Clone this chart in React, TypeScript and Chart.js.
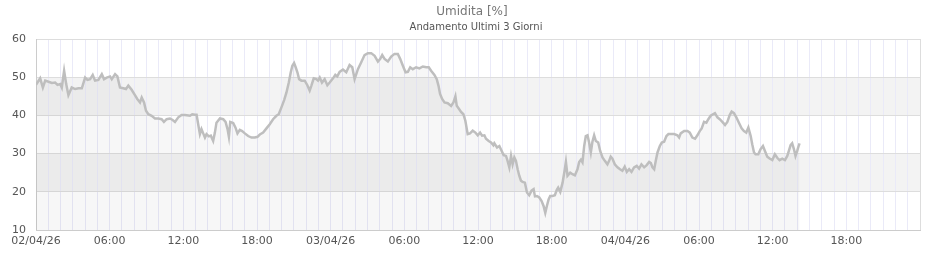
import { useEffect, useRef } from 'react';
import { Chart, registerables } from 'chart.js';

Chart.register(...registerables);

const titleText = 'Umidita [%]';
const subtitleText = 'Andamento Ultimi 3 Giorni';

// x tick labels every 6 hours, starting at 02/04/26 00:00
const xTickLabels = [
  '02/04/26', '06:00', '12:00', '18:00',
  '03/04/26', '06:00', '12:00', '18:00',
  '04/04/26', '06:00', '12:00', '18:00',
];
const xRangeHours = [0, 72];
const yRange = [10, 60];
const yStep = 10;
const bandRanges = [[40, 50], [20, 30]];

// hours since 02/04/26 00:00
const hours = [
  0, 0.12, 0.34, 0.56, 0.75, 1.02, 1.29, 1.56, 1.75, 1.97,
  2.10, 2.29, 2.46, 2.64, 2.91, 3.19, 3.46, 3.73, 4.00, 4.19,
  4.41, 4.62, 4.81, 5.08, 5.36, 5.54, 5.76, 6.03, 6.17, 6.44,
  6.63, 6.84, 7.11, 7.33, 7.52, 7.79, 8.06, 8.25, 8.47, 8.61,
  8.80, 8.96, 9.15, 9.42, 9.69, 9.96, 10.23, 10.42, 10.64, 10.91,
  11.13, 11.32, 11.59, 11.86, 12.13,
  12.54, 12.73, 12.94, 13.08, 13.21, 13.35, 13.48, 13.62, 13.76, 13.89,
  14.08, 14.24, 14.43, 14.57, 14.70, 14.98, 15.25, 15.44, 15.60, 15.71,
  15.82, 16.06, 16.25, 16.41, 16.60, 16.79, 17.01, 17.28, 17.55, 17.82,
  18.04, 18.23, 18.50, 18.77, 19.04, 19.31, 19.58, 19.77, 19.99, 20.21,
  20.40, 20.59, 20.75, 20.88, 21.02, 21.15, 21.29, 21.43, 21.62, 21.89,
  22.10, 22.29, 22.43, 22.62, 22.83, 22.97, 23.11, 23.29, 23.51, 23.73,
  23.92, 24.19, 24.38, 24.54,
  24.73, 25.00, 25.27, 25.54, 25.76, 25.95, 26.22, 26.49, 26.76, 27.03,
  27.30, 27.58, 27.85, 28.04, 28.20, 28.39, 28.66, 28.93, 29.20, 29.47,
  29.66, 29.88, 30.10, 30.29, 30.48, 30.69, 30.96, 31.23, 31.51, 31.78,
  31.99, 32.18, 32.45, 32.64, 32.78, 32.91, 33.08, 33.27, 33.54, 33.81,
  34.00, 34.16, 34.27, 34.43, 34.62, 34.81, 34.97, 35.16, 35.35, 35.57,
  35.79, 35.98, 36.17, 36.33, 36.52, 36.65, 36.87, 37.06, 37.25,
  37.33, 37.55, 37.74, 37.93, 38.09, 38.28, 38.41, 38.55, 38.69, 38.82,
  38.96, 39.09, 39.23, 39.36, 39.50, 39.63, 39.82, 39.99, 40.17, 40.36,
  40.53, 40.64, 40.80, 40.99, 41.18, 41.34, 41.48, 41.61, 41.75, 41.88,
  42.07, 42.26, 42.42, 42.53, 42.70, 42.89, 43.07, 43.16, 43.29, 43.51,
  43.70, 43.89, 44.10, 44.24, 44.38, 44.51, 44.65, 44.78, 44.92, 45.05,
  45.19, 45.32, 45.46, 45.60, 45.79, 45.95, 46.14, 46.33, 46.54, 46.68,
  46.81, 46.95, 47.14, 47.36, 47.57, 47.76, 47.95, 48.12, 48.31, 48.50,
  48.71, 48.93, 49.12, 49.31, 49.53, 49.74,
  49.94, 50.08, 50.21, 50.35, 50.48, 50.62, 50.81, 50.97, 51.16, 51.35,
  51.51, 51.70, 51.97, 52.24, 52.38, 52.51, 52.79, 53.06, 53.25, 53.46,
  53.68, 53.87, 54.06, 54.22, 54.41, 54.60, 54.76, 54.95, 55.14, 55.30,
  55.50, 55.69, 55.90, 56.12, 56.31, 56.50, 56.66, 56.85, 57.04, 57.26,
  57.47, 57.66, 57.85, 58.02, 58.21, 58.34, 58.48, 58.61, 58.83, 59.02,
  59.21, 59.37, 59.56, 59.75, 59.97, 60.18, 60.37, 60.56, 60.78, 61.00,
  61.19, 61.32, 61.46, 61.59, 61.73, 61.86, 62.00, 62.08, 62.19,
];

// relative humidity (%)
const humidity = [
  48.0, 48.6, 49.7, 47.3, 49.1, 48.8, 48.5, 48.6, 48.0, 48.2,
  47.3, 51.7, 48.2, 45.3, 47.3, 46.9, 47.1, 47.1, 49.9, 49.3,
  49.5, 50.6, 49.1, 49.3, 50.8, 49.5, 49.9, 50.2, 49.5, 50.8,
  50.2, 47.3, 47.1, 46.9, 47.8, 46.7, 45.3, 44.3, 43.4, 44.7,
  43.4, 41.2, 40.3, 39.9, 39.2, 39.2, 39.0, 38.3, 39.0, 39.2,
  38.8, 38.3, 39.5, 40.1, 40.1,
  39.9, 40.3, 40.2, 40.2, 37.7, 35.1, 36.4, 35.3, 34.2, 35.1,
  34.5, 34.7, 33.3, 35.5, 38.1, 39.2, 39.0, 38.3, 36.4, 34.4,
  38.3, 38.0, 36.8, 35.3, 36.2, 35.9, 35.3, 34.6, 34.2, 34.2,
  34.4, 35.0, 35.5, 36.6, 37.7, 39.0, 39.9, 40.3, 42.1, 44.0,
  46.0, 48.6, 51.3, 53.0, 53.7, 52.6, 51.3, 49.5, 49.1, 49.1,
  47.9, 46.5, 47.8, 49.7, 49.5, 49.1, 49.9, 48.6, 49.5, 47.9,
  48.6, 49.7, 50.6, 50.2,
  51.4, 52.0, 51.3, 53.2, 52.6, 49.5, 52.1, 53.9, 55.8, 56.3,
  56.3, 55.6, 54.1, 54.8, 55.8, 54.8, 54.1, 55.4, 56.1, 56.1,
  54.8, 53.0, 51.3, 51.4, 52.6, 52.1, 52.6, 52.3, 52.8, 52.6,
  52.6, 51.7, 50.6, 49.5, 47.8, 45.6, 44.3, 43.4, 43.2, 42.5,
  43.4, 45.0, 42.5, 41.8, 40.9, 40.3, 38.6, 35.1, 35.3, 36.0,
  35.5, 34.8, 35.5, 34.7, 34.8, 33.9, 33.3, 32.9, 32.2,
  32.7, 31.6, 32.0, 30.7, 29.6, 29.4, 28.1, 26.4, 29.4, 27.2,
  29.0, 28.1, 25.9, 24.2, 22.9, 22.6, 22.4, 19.8, 19.1, 20.3,
  20.7, 18.8, 18.9, 18.5, 17.6, 16.3, 14.5, 16.3, 18.0, 18.9,
  18.9, 19.1, 20.5, 21.1, 20.0, 22.4, 25.9, 27.8, 24.2, 25.0,
  24.6, 24.3, 25.9, 27.8, 28.4, 27.7, 32.0, 34.6, 34.8, 32.9,
  30.3, 33.1, 34.8, 33.3, 32.9, 30.7, 29.0, 28.1, 27.2, 28.1,
  29.2, 28.7, 27.2, 26.4, 25.9, 25.5, 26.6, 25.2, 25.9, 25.2,
  26.4, 26.8, 26.1, 27.2, 26.4, 27.0,
  27.8, 27.5, 26.4, 25.9, 28.1, 30.3, 32.0, 32.9, 33.1, 34.6,
  35.1, 35.1, 35.1, 34.8, 34.2, 35.3, 35.9, 35.9, 35.5, 34.2,
  33.9, 34.8, 35.9, 36.6, 38.3, 38.1, 39.0, 39.9, 40.3, 40.6,
  39.5, 39.0, 38.3, 37.5, 38.3, 40.1, 41.0, 40.6, 39.5, 38.0,
  36.6, 35.9, 35.5, 36.8, 34.6, 32.4, 30.3, 29.8, 29.8, 31.2,
  32.0, 30.7, 29.2, 28.7, 28.3, 29.8, 28.9, 28.3, 28.7, 28.3,
  29.4, 30.7, 32.2, 32.7, 31.2, 29.4, 30.7, 31.6, 32.7,
];

const FONT = 'DejaVu Sans';

export default function App() {
  const ref = useRef<HTMLCanvasElement>(null);

  useEffect(() => {
    document.body.style.margin = '0';
    const canvas = ref.current;
    if (!canvas) return;

    const bandsPlugin = {
      id: 'bands',
      beforeDraw(chart: any) {
        const { ctx, chartArea, scales } = chart;
        const y = scales.y;
        ctx.save();
        ctx.fillStyle = '#f3f3f3';
        for (const [lo, hi] of bandRanges) {
          const top = y.getPixelForValue(hi);
          const bot = y.getPixelForValue(lo);
          ctx.fillRect(chartArea.left, top, chartArea.right - chartArea.left, bot - top);
        }
        ctx.restore();
      },
    };

    const titlesPlugin = {
      id: 'titles',
      afterDraw(chart: any) {
        const { ctx } = chart;
        ctx.save();
        ctx.textAlign = 'center';
        ctx.textBaseline = 'middle';
        ctx.fillStyle = '#777';
        ctx.font = `12px "${FONT}"`;
        ctx.fillText(titleText, 472, 12);
        ctx.fillStyle = '#555';
        ctx.font = `10px "${FONT}"`;
        ctx.fillText(subtitleText, 476, 27);
        ctx.restore();
      },
    };

    const chart = new Chart(canvas, {
      type: 'line',
      data: {
        datasets: [
          {
            data: hours.map((h, i) => ({ x: h, y: humidity[i] })),
            borderColor: '#bebebe',
            borderWidth: 2.5,
            backgroundColor: 'rgba(0,0,0,0.03)',
            fill: 'start',
            pointRadius: 0,
            tension: 0,
          },
        ],
      },
      options: {
        responsive: false,
        animation: false,
        layout: { padding: { top: 39, right: 20, bottom: 0, left: 0 } },
        plugins: {
          legend: { display: false },
          tooltip: { enabled: false },
          title: { display: false },
        },
        scales: {
          x: {
            type: 'linear',
            min: xRangeHours[0],
            max: xRangeHours[1],
            afterFit(scale: any) {
              scale.height = 30;
            },
            ticks: {
              stepSize: 1,
              maxTicksLimit: 200,
              autoSkip: false,
              maxRotation: 0,
              padding: 5,
              color: '#555',
              font: { family: FONT, size: 11 },
              callback: (v: any) => {
                const n = Number(v);
                if (n % 6 !== 0) return '';
                const idx = n / 6;
                return idx < xTickLabels.length ? xTickLabels[idx] : '';
              },
            },
            grid: {
              drawTicks: false,
              color: (c: any) => (c.tick && c.tick.value === xRangeHours[1] ? '#dddddd' : '#eaeaf8'),
            },
            border: { color: '#cccccc' },
          },
          y: {
            min: yRange[0],
            max: yRange[1],
            afterFit(scale: any) {
              scale.width = 36;
            },
            ticks: {
              stepSize: yStep,
              padding: 10,
              color: '#555',
              font: { family: FONT, size: 11 },
            },
            grid: { drawTicks: false, color: '#dddddd' },
            border: { color: '#cccccc' },
          },
        },
      },
      plugins: [bandsPlugin, titlesPlugin],
    } as any);

    return () => chart.destroy();
  }, []);

  return (
    <div style={{ width: 940, height: 260 }}>
      <canvas ref={ref} width={940} height={260} style={{ display: 'block' }} />
    </div>
  );
}
